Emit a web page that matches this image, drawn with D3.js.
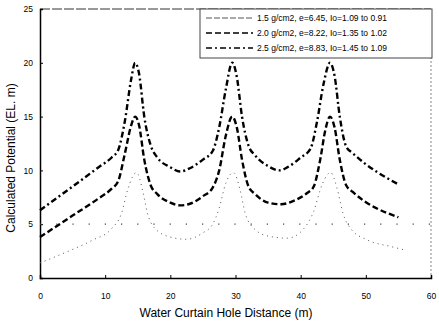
<!DOCTYPE html>
<html><head><meta charset="utf-8">
<script src="https://cdn.jsdelivr.net/npm/d3@7"></script>
<style>body{margin:0;background:#fff}svg{display:block}text{font-family:"Liberation Sans",Arial,sans-serif}</style>
</head><body><svg id="c" width="439" height="321"></svg>
<script>
const xTicks = [0,10,20,30,40,50,60];
const yTicks = [0,5,10,15,20,25];
const seriesNames = [
  "1.5 g/cm2, e=6.45, Io=1.09 to 0.91",
  "2.0 g/cm2, e=8.22, Io=1.35 to 1.02",
  "2.5 g/cm2, e=8.83, Io=1.45 to 1.09"
];
const s1x = [0,4,8,11,12.5,13.5,14.8,15.8,16.5,17.5,20,22.5,25,26.5,27.5,28.5,29.7,30.7,31.5,33,35,38,40.5,42,43.3,44.6,45.6,46.5,47.8,50,54,56];
const s1y = [1.4,2.4,3.5,4.6,6,8.3,9.8,8,6,4.7,3.8,3.6,4.2,5,6.5,8.8,9.8,8.2,6,4.5,3.9,3.7,4.6,6.2,8.7,9.8,8.3,6,4.5,3.6,2.9,2.6];
const s2x = [0,5,9,11,12,13,14,14.6,15.2,16,17,18,20,21.5,23,25,26.5,27.5,28.5,29.5,30.2,31,32,33,35,37,39,41,42,43,43.8,44.5,45.2,46,47,48,55];
const s2y = [3.8,5.8,7.4,8.3,9,11.5,14.2,15,14.2,11,8.6,7.8,7.0,6.75,6.9,7.6,8.4,10,13.2,15,14,11,8.5,7.8,7.0,6.85,7.2,7.9,8.5,11,13.8,15,14,11,8.6,8.0,5.65];
const s3x = [0,5,9,11,12,13,14,14.6,15.2,16,17,18,20,21.5,23,25,26.5,27.5,28.5,29.5,30.2,31,32,33,35,36.7,38,40,41.5,42.5,43.5,44.5,45.2,46,47,48,55];
const s3y = [6.3,8.5,10.3,11.2,11.9,14.5,18.5,20,19,15,12.3,11.2,10.3,9.9,10.2,11,11.8,14,17.5,20,18.7,15,12.3,11.4,10.4,10.0,10.3,11.2,12,14.5,18,20,18.8,15,12.2,11.6,8.7];
const refLineY = 5;

const svg = d3.select("#c");
const x = d3.scaleLinear().domain([0,60]).range([40,431]);
const y = d3.scaleLinear().domain([0,25]).range([278,9]);

// frame
svg.append("line").attr("x1",x(0)).attr("x2",x(60)).attr("y1",y(25)).attr("y2",y(25))
  .attr("stroke","#333").attr("stroke-width",1).attr("stroke-dasharray","10,2");
svg.append("line").attr("x1",x(60)).attr("x2",x(60)).attr("y1",y(25)).attr("y2",y(0))
  .attr("stroke","#888").attr("stroke-width",1).attr("stroke-dasharray","2,2");

const xAxis = svg.append("g").attr("transform",`translate(0,${y(0)})`)
  .call(d3.axisBottom(x).tickValues(xTicks).tickSize(-3).tickPadding(15));
const yAxis = svg.append("g").attr("transform",`translate(${x(0)},0)`)
  .call(d3.axisLeft(y).tickValues(yTicks).tickSize(-3).tickPadding(7));
[xAxis,yAxis].forEach(a=>{
  a.select(".domain").attr("stroke","#000").attr("stroke-width",1.5);
  a.selectAll(".tick line").attr("stroke","#000");
  a.selectAll("text").attr("font-size",8.5).attr("fill","#000");
});

// reference dotted line at y=5
svg.append("line").attr("x1",x(0)).attr("x2",x(60)).attr("y1",y(refLineY)).attr("y2",y(refLineY))
  .attr("stroke","#444").attr("stroke-width",1.2).attr("stroke-dasharray","1.2,15");

const line = d3.line().x(d=>x(d[0])).y(d=>y(d[1])).curve(d3.curveMonotoneX);
const series = [
  {xs:s1x, ys:s1y, stroke:"#555", w:1, dash:"1,4"},
  {xs:s2x, ys:s2y, stroke:"#000", w:2.4, dash:"6,3"},
  {xs:s3x, ys:s3y, stroke:"#000", w:2.4, dash:"6,3,2,3"}
];
series.forEach(s=>{
  svg.append("path").datum(s.xs.map((v,i)=>[v,s.ys[i]]))
    .attr("d",line).attr("fill","none").attr("stroke",s.stroke)
    .attr("stroke-width",s.w).attr("stroke-dasharray",s.dash);
});

// legend
const lg = svg.append("g");
lg.append("rect").attr("x",200).attr("y",9).attr("width",232).attr("height",49)
  .attr("fill","#fff").attr("stroke","#444").attr("stroke-width",1);
series.forEach((s,i)=>{
  const yy = 18 + i*15;
  lg.append("line").attr("x1",206).attr("x2",253).attr("y1",yy).attr("y2",yy)
    .attr("stroke",s.stroke).attr("stroke-width",i===0?1:1.5).attr("stroke-dasharray",i===0?"6,2":s.dash);
  lg.append("text").attr("x",257).attr("y",yy+3).attr("font-size",8.5).text(seriesNames[i]);
});

// titles
svg.append("text").attr("x",226).attr("y",317).attr("text-anchor","middle")
  .attr("font-size",12).text("Water Curtain Hole Distance (m)");
svg.append("text").attr("transform",`translate(15,158) rotate(-90)`)
  .attr("text-anchor","middle").attr("font-size",12).text("Calculated Potential (EL. m)");
</script></body></html>
